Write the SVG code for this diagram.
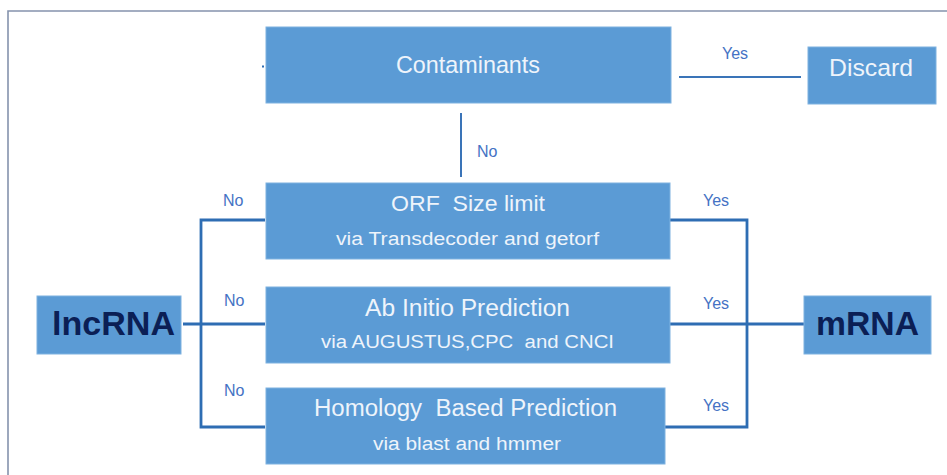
<svg xmlns="http://www.w3.org/2000/svg" width="947" height="475" viewBox="0 0 947 475">
<style>
.box{fill:#5b9bd5;stroke:#7fb2e0;stroke-width:1}
.t{font-family:"Liberation Sans",Arial,sans-serif;fill:#eef4fb;text-anchor:start}
.big{font-family:"Liberation Sans",Arial,sans-serif;font-weight:bold;font-size:34px;fill:#0b1f55}
.lbl{font-family:"Liberation Sans",Arial,sans-serif;font-size:16px;fill:#4472c4}
.c{fill:none;stroke:#2e6db3;stroke-width:2.8}
.c2{fill:none;stroke:#3a74b8;stroke-width:2}
</style>
<rect x="0" y="0" width="947" height="475" fill="#ffffff"/>
<path d="M8,475 L8,11 L947,11" fill="none" stroke="#8593ad" stroke-width="1.6"/>
<g id="connectors">
<line class="c2" x1="461" y1="113" x2="461" y2="177"/>
<line class="c2" x1="679" y1="77" x2="801" y2="77"/>
<path class="c" d="M265,220 H201 V427 H265 M183,324 H265"/>
<path class="c" d="M667,220 H747 V427 H665 M667,324 H804"/>
<rect x="262" y="65.5" width="2" height="2" fill="#2e6db3"/>
<text class="lbl" x="722" y="59">Yes</text>
<text class="lbl" x="477" y="157">No</text>
<text class="lbl" x="223" y="206">No</text>
<text class="lbl" x="224" y="306">No</text>
<text class="lbl" x="224" y="396">No</text>
<text class="lbl" x="703" y="206">Yes</text>
<text class="lbl" x="703" y="309">Yes</text>
<text class="lbl" x="703" y="411">Yes</text>
</g>
<g id="contaminants">
<rect class="box" x="266" y="27" width="405" height="76"/>
<text class="t" x="396" y="73" font-size="24" textLength="144" lengthAdjust="spacingAndGlyphs">Contaminants</text>
</g>
<g id="discard">
<rect class="box" x="808" y="47" width="128" height="57"/>
<text class="t" x="829" y="76" font-size="24" textLength="84" lengthAdjust="spacingAndGlyphs">Discard</text>
</g>
<g id="orf">
<rect class="box" x="266" y="183" width="404" height="76"/>
<text class="t" x="391" y="211" font-size="22" textLength="154" lengthAdjust="spacingAndGlyphs" xml:space="preserve">ORF  Size limit</text>
<text class="t" x="336" y="245" font-size="18" textLength="263" lengthAdjust="spacingAndGlyphs">via Transdecoder and getorf</text>
</g>
<g id="abinitio">
<rect class="box" x="266" y="287" width="404" height="76"/>
<text class="t" x="365" y="316" font-size="23" textLength="205" lengthAdjust="spacingAndGlyphs">Ab Initio Prediction</text>
<text class="t" x="321" y="348" font-size="18" textLength="293" lengthAdjust="spacingAndGlyphs" xml:space="preserve">via AUGUSTUS,CPC  and CNCI</text>
</g>
<g id="homology">
<rect class="box" x="266" y="388" width="399" height="76"/>
<text class="t" x="314" y="416" font-size="23" textLength="303" lengthAdjust="spacingAndGlyphs" xml:space="preserve">Homology  Based Prediction</text>
<text class="t" x="373" y="450" font-size="18" textLength="188" lengthAdjust="spacingAndGlyphs">via blast and hmmer</text>
</g>
<g id="lncrna">
<rect class="box" x="37" y="296" width="144" height="58"/>
<text class="big" x="52" y="335" textLength="123" lengthAdjust="spacingAndGlyphs">lncRNA</text>
</g>
<g id="mrna">
<rect class="box" x="804" y="296" width="127" height="58"/>
<text class="big" x="816" y="335" textLength="103" lengthAdjust="spacingAndGlyphs">mRNA</text>
</g>
</svg>
